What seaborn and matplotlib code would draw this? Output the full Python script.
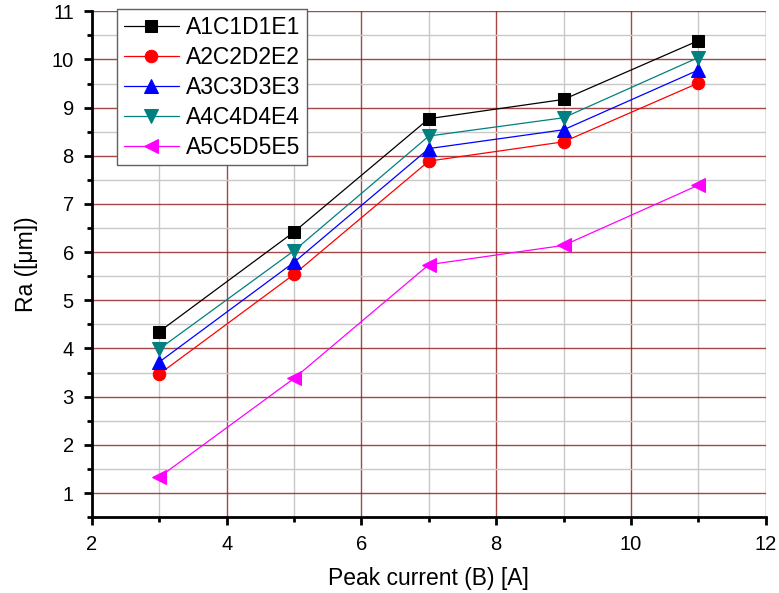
import numpy as np
import pandas as pd
import seaborn as sns
import matplotlib.pyplot as plt
from matplotlib.ticker import MultipleLocator

peak_current = [3, 5, 7, 9, 11]
series_names = ["A1C1D1E1", "A2C2D2E2", "A3C3D3E3", "A4C4D4E4", "A5C5D5E5"]
ra_1 = [4.35, 6.42, 8.77, 9.17, 10.39]
ra_2 = [3.47, 5.54, 7.89, 8.29, 9.51]
ra_3 = [3.72, 5.79, 8.15, 8.54, 9.78]
ra_4 = [3.99, 6.03, 8.41, 8.79, 10.04]
ra_5 = [1.33, 3.38, 5.74, 6.14, 7.39]

colors = ["black", "#ff0000", "#0000ff", "#008080", "#ff00ff"]
markers = ["s", "o", "^", "v", "<"]
msizes = [8, 9, 9.5, 9.5, 9.5]

sns.set_style("white")
plt.rcParams["font.family"] = ["Liberation Sans", "DejaVu Sans"]
plt.rcParams.update({"text.color": "black", "axes.labelcolor": "black",
                     "xtick.color": "black", "ytick.color": "black"})

df = pd.DataFrame({
    "x": peak_current * 5,
    "y": ra_1 + ra_2 + ra_3 + ra_4 + ra_5,
    "series": np.repeat(series_names, len(peak_current)),
})

fig = plt.figure(figsize=(7.79, 5.93), dpi=100)
ax = fig.add_axes([0.118, 0.128, 0.865, 0.853])

for name, c, m, ms in zip(series_names, colors, markers, msizes):
    sub = df[df["series"] == name]
    sns.lineplot(data=sub, x="x", y="y", ax=ax, color=c, marker=m, markersize=ms,
                 markeredgecolor=c, linewidth=0.9, label=name, zorder=5)

ax.set_xlim(2, 12)
ax.set_ylim(0.5, 11)
ax.xaxis.set_major_locator(MultipleLocator(2))
ax.xaxis.set_minor_locator(MultipleLocator(1))
ax.yaxis.set_major_locator(MultipleLocator(1))
ax.yaxis.set_minor_locator(MultipleLocator(0.5))
ax.grid(which="minor", color="#c8c8c8", linewidth=1.0, zorder=0)
ax.grid(which="major", color="#8b1a1a", linewidth=1.0, alpha=0.8, zorder=1)
ax.set_axisbelow(True)

for s in ["top", "right"]:
    ax.spines[s].set_visible(False)
for s in ["left", "bottom"]:
    ax.spines[s].set_linewidth(2)
    ax.spines[s].set_color("black")

ax.tick_params(which="major", direction="out", length=6, width=2, labelsize=14.5,
               pad=7, left=True, bottom=True)
ax.tick_params(which="minor", direction="out", length=3.5, width=2, left=True, bottom=True)

ax.set_xlabel("Peak current (B) [A]", fontsize=16.5, labelpad=9)
ax.set_ylabel("Ra ([\u03bcm])", fontsize=16.5, labelpad=10)

leg = ax.legend(loc="upper left", bbox_to_anchor=(0.037, 1.004), fontsize=16.5,
                frameon=True, fancybox=False, edgecolor="#606060", framealpha=1,
                handlelength=2.4, borderpad=0.3, labelspacing=0.3, handletextpad=0.3,
                borderaxespad=0, markerscale=1.0)
leg.get_frame().set_linewidth(1)

fig.savefig("out.png", dpi=100)
